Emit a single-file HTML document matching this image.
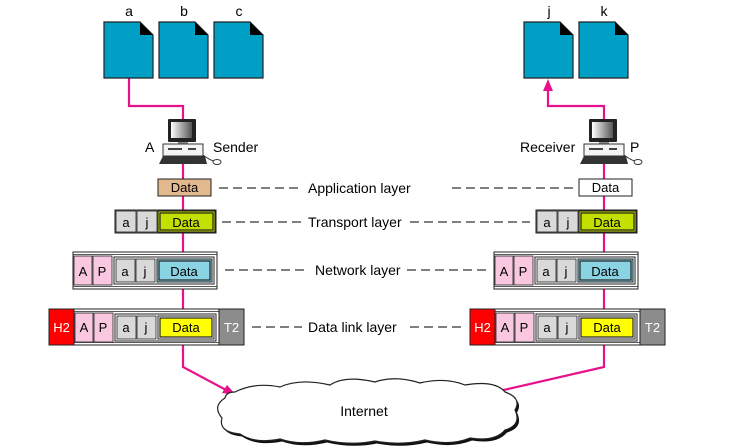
<!DOCTYPE html>
<html><head><meta charset="utf-8"><style>
html,body{margin:0;padding:0;background:#fff;}
svg{display:block;font-family:"Liberation Sans",sans-serif;}
</style></head><body>
<svg width="733" height="448" viewBox="0 0 733 448" xmlns="http://www.w3.org/2000/svg">
<defs>
<linearGradient id="scr" x1="0" x2="1" y1="0" y2="0">
<stop offset="0" stop-color="#fff"/><stop offset="1" stop-color="#555"/>
</linearGradient>
<g id="doc">
<path d="M0,0 H36 L49,13 V56 H0 Z" fill="#00a0c6" stroke="#222" stroke-width="1.2"/>
<path d="M36,0 L49,13 H36 Z" fill="#000"/>
</g>
<g id="pc">
<rect x="-15" y="0" width="28" height="23" fill="#222" rx="1"/>
<rect x="-12" y="3" width="21" height="16" fill="url(#scr)"/>
<rect x="-5" y="23" width="10" height="3" fill="#888"/>
<rect x="-20" y="25" width="40" height="12" fill="#f4f4f4" stroke="#333"/>
<rect x="-15" y="29" width="14" height="2" fill="#444"/>
<rect x="5" y="29" width="8" height="2" fill="#444"/>
<path d="M-20,37 H22 L24,45 H-24 Z" fill="#333"/>
<path d="M20,36 Q28,42 32,42" fill="none" stroke="#333"/>
<ellipse cx="34" cy="43" rx="4" ry="2.5" fill="#fff" stroke="#333"/>
</g>
<g id="stack">
<rect x="115" y="210" width="101" height="23" fill="#fff" stroke="#222"/>
<rect x="116" y="211" width="20" height="21" fill="#d9d9d9" stroke="#222" stroke-width=".8"/>
<rect x="137" y="211" width="20" height="21" fill="#d9d9d9" stroke="#222" stroke-width=".8"/>
<rect x="158" y="211" width="57" height="21" fill="#c4e000" stroke="#222"/>
<rect x="160" y="213" width="53" height="17" fill="#c4e000" stroke="#222" stroke-width="1.2"/>
<text x="126" y="227" font-size="13" text-anchor="middle">a</text>
<text x="147" y="227" font-size="13" text-anchor="middle">j</text>
<text x="186" y="227" font-size="13" text-anchor="middle">Data</text>
<rect x="73" y="252" width="144" height="37" fill="#fff" stroke="#222"/>
<line x1="73" y1="254.5" x2="217" y2="254.5" stroke="#222" stroke-width=".8"/>
<line x1="73" y1="286.5" x2="217" y2="286.5" stroke="#222" stroke-width=".8"/>
<rect x="74" y="256" width="18" height="29" fill="#f9c8e0" stroke="#222" stroke-width=".8"/>
<rect x="93" y="256" width="19" height="29" fill="#f9c8e0" stroke="#222" stroke-width=".8"/>
<rect x="114" y="257" width="100" height="27" fill="#fff" stroke="#222"/>
<rect x="116" y="259" width="19" height="23" fill="#d9d9d9" stroke="#222" stroke-width=".8"/>
<rect x="136" y="259" width="19" height="23" fill="#d9d9d9" stroke="#222" stroke-width=".8"/>
<rect x="157" y="259" width="55" height="23" fill="#89d3e3" stroke="#222"/>
<rect x="159" y="261" width="51" height="19" fill="#89d3e3" stroke="#222" stroke-width="1.2"/>
<text x="83" y="276" font-size="13" text-anchor="middle">A</text>
<text x="102" y="276" font-size="13" text-anchor="middle">P</text>
<text x="125" y="276" font-size="13" text-anchor="middle">a</text>
<text x="145" y="276" font-size="13" text-anchor="middle">j</text>
<text x="184" y="276" font-size="13" text-anchor="middle">Data</text>
<rect x="49" y="309" width="25" height="36" fill="#ff0000" stroke="#222"/>
<rect x="219" y="309" width="25" height="36" fill="#8c8c8c" stroke="#222"/>
<rect x="74" y="309" width="145" height="36" fill="#fff" stroke="#222"/>
<line x1="74" y1="311.5" x2="219" y2="311.5" stroke="#222" stroke-width=".8"/>
<line x1="74" y1="342.5" x2="219" y2="342.5" stroke="#222" stroke-width=".8"/>
<rect x="75" y="313" width="18" height="29" fill="#f9c8e0" stroke="#222" stroke-width=".8"/>
<rect x="94" y="313" width="19" height="29" fill="#f9c8e0" stroke="#222" stroke-width=".8"/>
<rect x="115" y="314" width="101" height="27" fill="#fff" stroke="#222"/>
<rect x="117" y="316" width="19" height="23" fill="#d9d9d9" stroke="#222" stroke-width=".8"/>
<rect x="137" y="316" width="19" height="23" fill="#d9d9d9" stroke="#222" stroke-width=".8"/>
<rect x="158" y="316" width="56" height="23" fill="#fff" stroke="#222"/>
<rect x="160" y="318" width="52" height="19" fill="#ffff00" stroke="#222" stroke-width="1.2"/>
<text x="61.5" y="332" font-size="13" text-anchor="middle" fill="#fff">H2</text>
<text x="231.5" y="332" font-size="13" text-anchor="middle" fill="#fff">T2</text>
<text x="84" y="332" font-size="13" text-anchor="middle">A</text>
<text x="103" y="332" font-size="13" text-anchor="middle">P</text>
<text x="126" y="332" font-size="13" text-anchor="middle">a</text>
<text x="146" y="332" font-size="13" text-anchor="middle">j</text>
<text x="186" y="332" font-size="13" text-anchor="middle">Data</text>
</g>
</defs>

<g stroke="#e8118c" stroke-width="2.2" fill="none">
<polyline points="129,78 129,106 183,106 183,120"/>
<line x1="183" y1="164" x2="183" y2="345"/>
<polyline points="183,345 183,367 228,391"/>
<polyline points="548,84 548,106 604,106 604,120"/>
<line x1="604" y1="164" x2="604" y2="345"/>
<polyline points="604,345 604,367 495,392"/>
</g>
<path d="M236,395 L222,393 L227,385 Z" fill="#e8118c"/>
<path d="M548,79 L543,91 L553,91 Z" fill="#e8118c"/>

<use href="#doc" x="104" y="22"/>
<use href="#doc" x="159" y="22"/>
<use href="#doc" x="214" y="22"/>
<use href="#doc" x="524" y="22"/>
<use href="#doc" x="579" y="22"/>
<g font-size="14" text-anchor="middle">
<text x="129" y="16">a</text><text x="184" y="16">b</text><text x="239" y="16">c</text>
<text x="549" y="16">j</text><text x="604" y="16">k</text>
</g>

<use href="#pc" x="183" y="119"/>
<use href="#pc" x="604" y="119"/>
<text x="145" y="152" font-size="14">A</text>
<text x="213" y="152" font-size="14">Sender</text>
<text x="520" y="152" font-size="14">Receiver</text>
<text x="630" y="152" font-size="14">P</text>

<rect x="158" y="179" width="53" height="17" fill="#e2b88e" stroke="#222"/>
<text x="184.5" y="192" font-size="13" text-anchor="middle">Data</text>
<rect x="579" y="179" width="53" height="17" fill="#fff" stroke="#222"/>
<text x="605.5" y="192" font-size="13" text-anchor="middle">Data</text>

<use href="#stack"/>
<use href="#stack" x="421"/>

<g stroke="#333" stroke-width="1.2" stroke-dasharray="9,5">
<line x1="219" y1="188" x2="302" y2="188"/><line x1="452" y1="188" x2="574" y2="188"/>
<line x1="222" y1="222" x2="302" y2="222"/><line x1="410" y1="222" x2="530" y2="222"/>
<line x1="225" y1="270" x2="308" y2="270"/><line x1="407" y1="270" x2="488" y2="270"/>
<line x1="252" y1="327" x2="302" y2="327"/><line x1="410" y1="327" x2="462" y2="327"/>
</g>
<g font-size="14">
<text x="308" y="193">Application layer</text>
<text x="308" y="227">Transport layer</text>
<text x="315" y="275">Network layer</text>
<text x="308" y="332">Data link layer</text>
</g>

<g>
<path transform="translate(2,2.5)" d="M235,392 Q255,382 280,387 Q300,378 330,385 Q345,375 375,382 Q395,375 420,383 Q445,377 465,385 Q495,380 505,392 Q522,398 515,410 Q522,425 505,430 Q495,442 470,438 Q450,446 425,440 Q400,446 375,441 Q350,446 325,440 Q300,446 280,439 Q255,444 240,434 Q218,432 222,418 Q212,406 225,398 Q226,392 235,392 Z" fill="#111"/>
<path d="M235,392 Q255,382 280,387 Q300,378 330,385 Q345,375 375,382 Q395,375 420,383 Q445,377 465,385 Q495,380 505,392 Q522,398 515,410 Q522,425 505,430 Q495,442 470,438 Q450,446 425,440 Q400,446 375,441 Q350,446 325,440 Q300,446 280,439 Q255,444 240,434 Q218,432 222,418 Q212,406 225,398 Q226,392 235,392 Z" fill="#fff" stroke="#222" stroke-width="1.2"/>
<text x="364" y="416" font-size="14" text-anchor="middle">Internet</text>
</g>
</svg>
</body></html>
